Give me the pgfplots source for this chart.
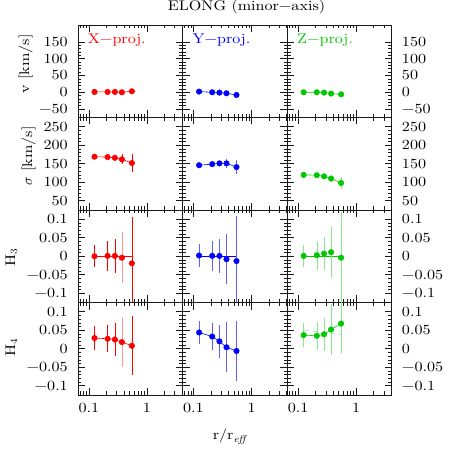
\documentclass[border=0pt]{standalone}
\usepackage{fontspec}
\setmainfont{lmroman10-regular.otf}[FakeStretch=1.15, ItalicFont=lmroman10-italic.otf]
\usepackage{pgfplots}
\pgfplotsset{compat=1.18}
\newcommand\lab{\fontsize{14}{16}\selectfont}
\definecolor{pgreen}{RGB}{0,200,0}
\definecolor{lgreen}{RGB}{140,228,140}
\definecolor{lred}{RGB}{255,150,150}
\definecolor{lblue}{RGB}{95,95,255}
\pgfplotsset{
  mypanel/.style={scale only axis, width=104.6pt, height=92.5pt, anchor=south west,
    xmin=0.065, xmax=4.1, xtick={0.1,1},
    minor xtick={0.07,0.08,0.09,0.2,0.3,0.4,0.5,0.6,0.7,0.8,0.9,2,3,4},
    xticklabels={}, yticklabels={}, tick align=inside, xtick pos=both, ytick pos=both,
    major tick length=7pt, minor tick length=3.5pt, minor y tick num=4,
    axis line style={line width=0.7pt, black!90},
    every tick/.style={black!90, line width=0.6pt},
    tick label style={font=\lab, inner sep=0pt},
    yticklabel shift=10pt, xticklabel shift=8pt},
  myrowv/.style={ymin=-75, ymax=200, ytick={-50,0,50,100,150}, yticklabels={−50,0,50,100,150}},
  myrows/.style={ymin=25, ymax=275, ytick={50,100,150,200,250}, yticklabels={50,100,150,200,250}},
  myrowh/.style={ymin=-0.125, ymax=0.125, ytick={-0.1,-0.05,0,0.05,0.1}, yticklabels={−0.1,−0.05,0,0.05,0.1}},
  mycolb/.style={yticklabels={}},
  mycolc/.style={yticklabel pos=right},
  mybot/.style={xticklabels={0.1,1}},
  mypts/.style={color=#1, line width=0.6pt, mark=*, mark size=2.7pt},
  myeb/.style={error bars/y dir=both, error bars/y explicit, error bars/error mark=none,
    error bars/error bar style={line width=0.6pt, draw=#1}},
}
\begin{document}
\begin{tikzpicture}[font=\lab]
\useasboundingbox (0,0) rectangle (458pt,458pt);

% ---- row 1: v ----
\begin{semilogxaxis}[mypanel, myrowv, at={(78pt,340.5pt)}]
\addplot[mypts=red, myeb=red] coordinates {(0.125,1) +- (0,3) (0.21,1) +- (0,3) (0.28,1) +- (0,3) (0.37,0) +- (0,4) (0.55,3) +- (0,5)};
\end{semilogxaxis}
\begin{semilogxaxis}[mypanel, myrowv, mycolb, at={(182.6pt,340.5pt)}]
\addplot[mypts=blue, myeb=lblue] coordinates {(0.125,2) +- (0,3) (0.21,0) +- (0,3) (0.28,-1) +- (0,3) (0.37,-3) +- (0,4) (0.55,-8) +- (0,5)};
\end{semilogxaxis}
\begin{semilogxaxis}[mypanel, myrowv, mycolc, at={(287.2pt,340.5pt)}]
\addplot[mypts=pgreen, myeb=lgreen] coordinates {(0.125,0) +- (0,3) (0.21,0) +- (0,3) (0.28,-1) +- (0,3) (0.37,-4) +- (0,4) (0.55,-6) +- (0,5)};
\end{semilogxaxis}

% ---- row 2: sigma ----
\begin{semilogxaxis}[mypanel, myrows, at={(78pt,248pt)}]
\addplot[mypts=red, myeb=red] coordinates {(0.125,169) +- (0,5) (0.21,168) +- (0,5) (0.28,166) +- (0,6) (0.37,162) +- (0,13) (0.55,152) +- (0,24)};
\end{semilogxaxis}
\begin{semilogxaxis}[mypanel, myrows, mycolb, at={(182.6pt,248pt)}]
\addplot[mypts=blue, myeb=lblue] coordinates {(0.125,146) +- (0,5) (0.21,149) +- (0,6) (0.28,151) +- (0,7) (0.37,151) +- (0,12) (0.55,141) +- (0,19)};
\end{semilogxaxis}
\begin{semilogxaxis}[mypanel, myrows, mycolc, at={(287.2pt,248pt)}]
\addplot[mypts=pgreen, myeb=lgreen] coordinates {(0.125,120) +- (0,5) (0.21,119) +- (0,5) (0.28,116) +- (0,6) (0.37,110) +- (0,10) (0.55,98) +- (0,16)};
\end{semilogxaxis}

% ---- row 3: H3 ----
\begin{semilogxaxis}[mypanel, myrowh, at={(78pt,155.5pt)}]
\addplot[draw=none, mark=none, myeb=lred] coordinates {(0.37,-0.004) +- (0,0.069)};
\addplot[red, line width=0.6pt] coordinates {(0.125,0) (0.55,0)};
\addplot[mypts=red, only marks, myeb=red] coordinates {(0.125,0) +- (0,0.030) (0.21,0.001) +- (0,0.040) (0.28,0.001) +- (0,0.046) (0.37,-0.004) +- (0,0) (0.55,-0.019) +- (0,0.124)};
\end{semilogxaxis}
\begin{semilogxaxis}[mypanel, myrowh, mycolb, at={(182.6pt,155.5pt)}]
\addplot[blue, line width=0.6pt] coordinates {(0.125,0) (0.55,0)};
\addplot[mypts=blue, only marks, myeb=lblue] coordinates {(0.125,0.002) +- (0,0.030) (0.21,0.001) +- (0,0.040) (0.28,0.001) +- (0,0.046) (0.37,-0.008) +- (0,0.068) (0.55,-0.013) +- (0,0.123)};
\end{semilogxaxis}
\begin{semilogxaxis}[mypanel, myrowh, mycolc, at={(287.2pt,155.5pt)}]
\addplot[pgreen, line width=0.6pt] coordinates {(0.125,0) (0.55,0)};
\addplot[mypts=pgreen, only marks, myeb=lgreen] coordinates {(0.125,0.001) +- (0,0.030) (0.21,0.003) +- (0,0.039) (0.28,0.007) +- (0,0.045) (0.37,0.011) +- (0,0.069) (0.55,-0.004) +- (0,0.123)};
\end{semilogxaxis}

% ---- row 4: H4 ----
\begin{semilogxaxis}[mypanel, myrowh, mybot, at={(78pt,63pt)}]
\addplot[draw=none, mark=none, myeb=lred] coordinates {(0.37,0.018) +- (0,0.067)};
\addplot[mypts=red, myeb=red] coordinates {(0.125,0.029) +- (0,0.032) (0.21,0.027) +- (0,0.037) (0.28,0.025) +- (0,0.045) (0.37,0.018) +- (0,0) (0.55,0.008) +- (0,0.080)};
\end{semilogxaxis}
\begin{semilogxaxis}[mypanel, myrowh, mybot, mycolb, at={(182.6pt,63pt)}]
\addplot[mypts=blue, myeb=lblue] coordinates {(0.125,0.044) +- (0,0.031) (0.21,0.033) +- (0,0.037) (0.28,0.020) +- (0,0.045) (0.37,0.004) +- (0,0.068) (0.55,-0.006) +- (0,0.080)};
\end{semilogxaxis}
\begin{semilogxaxis}[mypanel, myrowh, mybot, mycolc, at={(287.2pt,63pt)}]
\addplot[lgreen, line width=0.6pt, dash pattern=on 5pt off 4pt] coordinates {(0.125,0.051) (0.55,0.038)};
\addplot[mypts=pgreen, myeb=lgreen] coordinates {(0.125,0.037) +- (0,0.033) (0.21,0.035) +- (0,0.038) (0.28,0.039) +- (0,0.045) (0.37,0.052) +- (0,0.068) (0.55,0.068) +- (0,0.079)};
\end{semilogxaxis}

% ---- texts ----
\node[inner sep=0pt] at (246.5pt,451pt) {ELONG (minor−axis)};
\node[inner sep=0pt, anchor=west, text=red] at (87.7pt,418pt) {X−proj.};
\node[inner sep=0pt, anchor=west, text=blue] at (192.3pt,418pt) {Y−proj.};
\node[inner sep=0pt, anchor=west, text=pgreen] at (297pt,418pt) {Z−proj.};
\node[inner sep=0pt, anchor=base, rotate=90] at (29pt,394pt) {v [km/s]};
\node[inner sep=0pt, anchor=base, rotate=90] at (32pt,302pt) {$\sigma$ [km/s]};
\node[inner sep=0pt, anchor=base, rotate=90] at (15pt,201pt) {H\textsubscript{3}};
\node[inner sep=0pt, anchor=base, rotate=90] at (15pt,110.5pt) {H\textsubscript{4}};
\node[inner sep=0pt, anchor=base] at (229.5pt,18pt) {r/r\textsubscript{\itshape eff}};
\end{tikzpicture}
\end{document}
